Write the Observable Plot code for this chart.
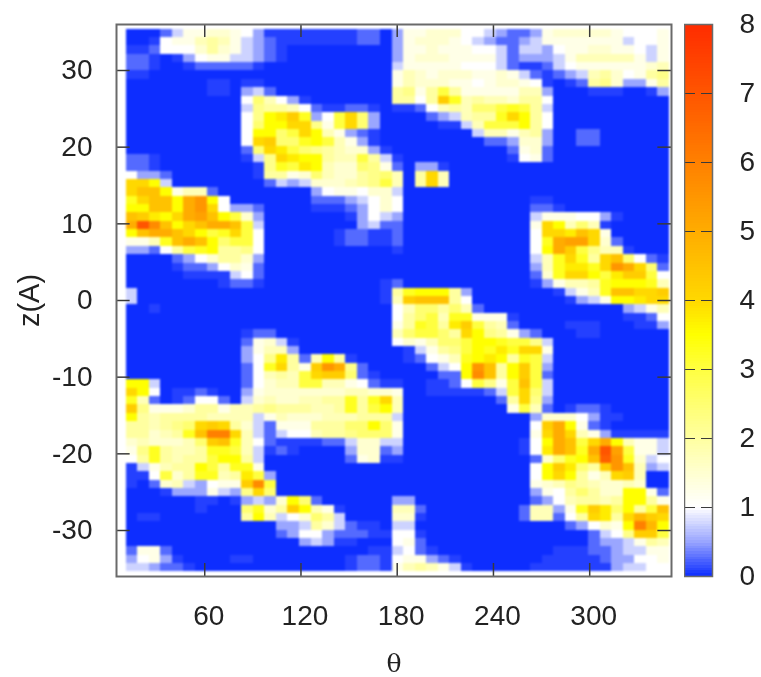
<!DOCTYPE html>
<html>
<head>
<meta charset="utf-8">
<script src="https://cdn.jsdelivr.net/npm/d3@7"></script>
<script src="https://cdn.jsdelivr.net/npm/@observablehq/plot@0.6"></script>
<style>
html,body{margin:0;padding:0;background:#fff}
#wrap{position:relative;width:761px;height:677px;overflow:hidden}
#wrap svg{position:absolute;top:0;filter:blur(0.5px)}
</style>
</head>
<body>
<div id="wrap"></div>
<script>
// Density, one string per z row (top to bottom).
// Each character is a value: "-" = 0.08, otherwise base-36 digit / 4 (4 = 1, c = 3, g = 4, k = 5, o = 6, s = 7).
const rowsLeft = [
"000135566542--------110","00-4557875321-------110","--14446865321-","11-0-24553321-","11-00-11111-","--",
"0000000--0--","0000000--0231","00000000004a742-","00000000003988741--11-0","000000000049efhd24cga20",
"00000000004aeegg95cga20","00000000004eeacge7521-0","00000000004ghaadec752-0","00000000001agfca987662-",
"11-0000000-39gfee877c83","11-00000000-9dcfe766a95","42210000000-8856a76689a","gge3000000001323666789c",
"giie5771000000002455466","dgiiekme400000001112346","eeiiekmg42210000---1246","ihfegkliec620000000-243",
"ksniegikkic300000000231","eikkigecdgc4000000-11--","557dikieacc4000000-11--","22148cde8894","000012468862",
"0000-1124651","00000----341","00000000-11-0000000000-","3000000000000000000000-","3000000000000000000000-",
"00-","","","0000000000-11","00000000001563-","000000000025772","0000000000249f817e8-","000000000014dg85hmk91",
"000000000014787cghha1-0","ee3000000014677cc77541-","ge40--1-002566666667766","d710-14410367667788d8dg",
"h955568857789888778d8ce","e8788887777357666777888","88789aghg8631555888aaea","88678dioog7313447889aaa",
"676667ahid741----113663","59d8778ddc73-1-00002661","48d8788cee830000000156-","-35788ec8dd5","--4c68dd78fc2",
"-016732455hnc","000-2225329ga","000000--0-2326ea1","000000-000ad68he75-","0--00000008e7346a83",
"00000000000002238631--0","000000000000012442111--","000000000000000232--","155100000000000000000--",
"2452-0000--00000000-11-","33211-0000000000000-11-"
];
const rowsRight = [
"255666443211256666654445","256665432112355555553445","255655544313324556655435","256665555312223577777535",
"35555544431--13455555567","5765666556531-1237864589","5766655456654-0-18962258","8958c855555772000---00-2",
"8848hd78776884","--14787aacdc83","000123788dge84","0000--37ccce84","000000037757820011","000000001126620011",
"00000000001561","-000000000-451","1022-","708g7","708g7","3","400000000000--","40000000000011-",
"2000000000003555442-","1000000000005ge7a7-","1000000000004ggfig5","1000000000004dkllg61","-000000000004ekhc977-",
"00000000000037dgd8gia41-","00000000000027dffdgmkga1","00000000000016dggecfhhc4","100000000000-25778deeed7",
"8deee820000000-357diiggh","7hiii8400000000-235eefgg","47aa8a710000000000002357","48ac7dd555-000000000--14",
"58dc8fhc8710000---000--2","7acca8ge98521000--","4657aaceedcc93","0-3589cedfdgg5","0-1457defe8dc3",
"000134emi8ehc2","000011eni8ehc1","-00--14c95cic3","500-----13cga3","70000000018g92","70000000005c710-11-",
"300000000000266642--","5000000000004hke51-","5000000000005gkg752-----","30000000000-4ekicgke7553",
"20000000000-4fkidkslc553","-0000000000016adeirmd634","0000000000004ehfa8hmi723","0000000000004ege857gh7",
"0000000000005679876676","0000000000002548a866ee51","22000000000012478878ee85","7710000000017725dhfae8ci",
"66-00000000177148gf8gjhg","33000000000000012465eoje","44-000000000000001349hhc","451000000000000001223587",
"341-0000000000---1123355","45521-0000000-----122445","578753-00000-------23344"
];
const thetaStart = 11, thetaStep = 7.207;
const zTop = 35.38, zStep = 1.089;
const thetaTicks = [60, 120, 180, 240, 300];
const zTicks = [-30, -20, -10, 0, 10, 20, 30];
const barTicks = [0, 1, 2, 3, 4, 5, 6, 7, 8];
const colorStops = [0, 0.5, 1, 2, 3, 3.5, 4, 5, 6, 7, 8];
const colorValues = ["#0d2dff","#9aa6ff","#ffffff","#ffffa0","#ffff40","#ffff00","#ffd800","#ffac00","#ff8000","#ff5500","#ff2c00"];

const decode = ch => ch === "-" ? 0.08 : parseInt(ch, 36) / 4;
const cells = [];
rowsLeft.forEach((left, r) => {
  const row = left.padEnd(23, "0").slice(0, 23) + rowsRight[r].padEnd(24, "0").slice(0, 24);
  [...row].forEach((ch, c) => cells.push({
    t1: thetaStart + c * thetaStep, t2: thetaStart + (c + 1) * thetaStep,
    z1: zTop - r * zStep, z2: zTop - (r + 1) * zStep, v: decode(ch)
  }));
});
const color = {type: "linear", domain: colorStops, range: colorValues, interpolate: "rgb"};
const font = "'Liberation Sans', Arial, sans-serif";
const inkTick = "#3a3a3a", inkFrame = "#6a6a6a", inkText = "#222";
const plain = d => String(d);

const main = Plot.plot({
  width: 761, height: 677,
  marginLeft: 116, marginRight: 90, marginTop: 24, marginBottom: 101,
  style: {fontFamily: font, background: "transparent", color: inkText},
  x: {domain: [5, 351]},
  y: {domain: [-36, 36]},
  color,
  marks: [
    Plot.rect(cells, {x1: "t1", x2: "t2", y1: "z1", y2: "z2", fill: "v", shapeRendering: "crispEdges", imageFilter: "blur(1.2px)"}),
    Plot.ruleX(thetaTicks, {y1: -36, y2: -34.3, stroke: inkTick, strokeWidth: 1.5}),
    Plot.ruleX(thetaTicks, {y1: 34.3, y2: 36, stroke: inkTick, strokeWidth: 1.5}),
    Plot.ruleY(zTicks, {x1: 5, x2: 13.5, stroke: inkTick, strokeWidth: 1.5}),
    Plot.ruleY(zTicks, {x1: 342.5, x2: 351, stroke: inkTick, strokeWidth: 1.5}),
    Plot.frame({stroke: inkFrame, strokeWidth: 2}),
    Plot.axisX(thetaTicks, {tickSize: 0, tickPadding: 29, dx: 4, fontSize: 28, label: null, tickFormat: plain}),
    Plot.axisY(zTicks, {tickSize: 0, tickPadding: 24, fontSize: 28, label: null, tickFormat: plain}),
    Plot.text(["θ"], {frameAnchor: "bottom", lineAnchor: "middle", dy: 87, fontSize: 25, fontFamily: "'DejaVu Serif', serif", fill: inkText}),
    Plot.text(["z(A)"], {frameAnchor: "left", dx: -87, rotate: -90, textAnchor: "middle", fontSize: 29, fill: inkText})
  ]
});
main.style.left = "0px";

const barStep = 0.04;
const levels = d3.range(0, 8, barStep);
const bar = Plot.plot({
  width: 77, height: 677,
  marginLeft: 0, marginRight: 49, marginTop: 24, marginBottom: 101,
  style: {fontFamily: font, background: "transparent", color: inkText},
  x: {domain: [0, 1], axis: null},
  y: {domain: [0, 8]},
  color,
  marks: [
    Plot.rect(levels, {x1: 0, x2: 1, y1: d => d, y2: d => d + barStep, fill: d => d + barStep / 2, shapeRendering: "crispEdges"}),
    Plot.ruleY(barTicks.slice(1, -1), {stroke: inkTick, strokeWidth: 1.2, strokeDasharray: "11 6"}),
    Plot.frame({stroke: inkFrame, strokeWidth: 1.5}),
    Plot.axisY(barTicks, {anchor: "right", tickSize: 0, tickPadding: 27, fontSize: 28, label: null, tickFormat: plain})
  ]
});
bar.style.left = "684px";

const wrap = document.getElementById("wrap");
wrap.append(main, bar);
</script>
</body>
</html>
